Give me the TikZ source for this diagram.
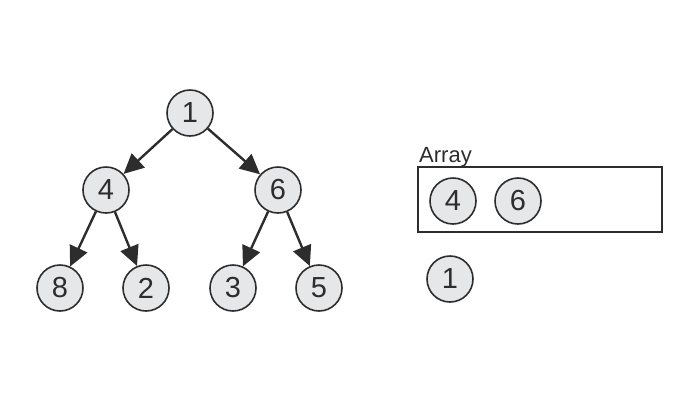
\documentclass[tikz,border=0pt]{standalone}
\usepackage{fontspec}
\setmainfont{Liberation Sans}
\usetikzlibrary{arrows.meta}
\definecolor{nodegray}{RGB}{230,231,233}
\definecolor{inkgray}{RGB}{45,45,45}

\begin{document}
\begin{tikzpicture}[x=1pt,y=-1pt,
    heapnode/.style={circle,draw=inkgray,fill=nodegray,line width=1.6pt,
      minimum size=46pt,inner sep=0pt,text=inkgray,
      font=\fontsize{29}{29}\selectfont},
    heaparrow/.style={draw=inkgray,line width=2.4pt,
      -{Triangle[length=20pt,width=19pt]}}]
          \useasboundingbox (0,0) rectangle (700,400);
          % tree
          \node[heapnode] (n1) at (190,113) {1};
          \node[heapnode] (n4) at (106,190) {4};
          \node[heapnode] (n6) at (278,190) {6};
          \node[heapnode] (n8) at (60,288) {8};
          \node[heapnode] (n2) at (146,288) {2};
          \node[heapnode] (n3) at (233,288) {3};
          \node[heapnode] (n5) at (319,288) {5};
          \draw[heaparrow] (n1) -- (n4);
          \draw[heaparrow] (n1) -- (n6);
          \draw[heaparrow] (n4) -- (n8);
          \draw[heaparrow] (n4) -- (n2);
          \draw[heaparrow] (n6) -- (n3);
          \draw[heaparrow] (n6) -- (n5);
          % array
          \draw[draw=inkgray,line width=1.5pt] (418,167) rectangle (662,232);
          \node[anchor=base west,inner sep=0pt,text=inkgray,
            font=\fontsize{22}{22}\selectfont] (arraylbl) at (419,162) {Array};
          \node[heapnode] (a4) at (453,201) {4};
          \node[heapnode] (a6) at (518,201) {6};
          \node[heapnode] (a1) at (450,279) {1};
\end{tikzpicture}
\end{document}
